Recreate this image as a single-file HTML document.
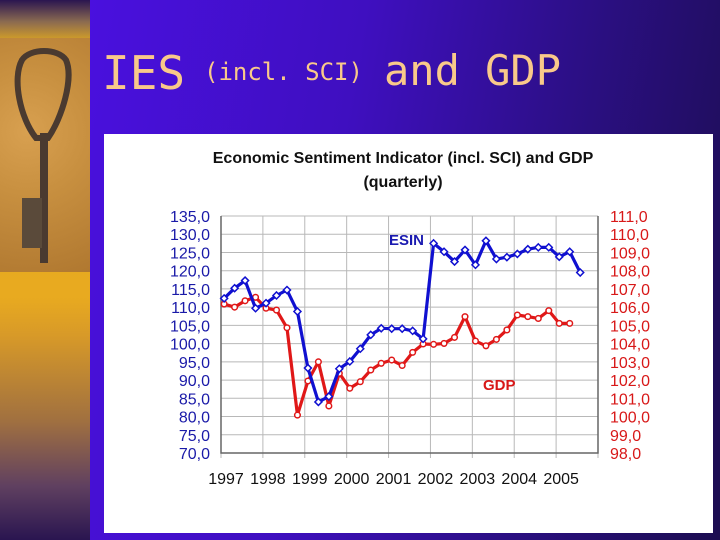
<!DOCTYPE html>
<html><head><meta charset="utf-8">
<style>
html,body{margin:0;padding:0;}
body{width:720px;height:540px;overflow:hidden;position:relative;font-family:"Liberation Sans",sans-serif;
background:linear-gradient(100deg,#4d10e8 0%,#3f0fc0 45%,#2a0f80 75%,#1c0d50 100%);}
#strip{position:absolute;left:0;top:0;width:90px;height:540px;
background:linear-gradient(180deg,#2a1550 0%,#8a6a50 4%,#e0a820 8%,#e8aa20 55%,#d89a28 62%,#a07040 78%,#604060 90%,#2a1550 100%);}
#photo{position:absolute;left:0;top:38px;width:90px;height:234px;
background:radial-gradient(circle at 30% 40%,#d8a050 0%,#c89040 40%,#b07830 100%);}
.tt{position:absolute;color:#f9c98a;font-family:"DejaVu Sans Mono","Liberation Mono",monospace;white-space:nowrap;line-height:1;}
#panel{position:absolute;left:104px;top:134px;width:609px;height:399px;background:#fff;}
</style></head><body>
<div id="strip"></div>
<div id="photo">
<svg width="90" height="234">
<path d="M36 100 C20 80 12 40 22 22 C30 10 58 10 66 22 C74 40 62 80 48 100 Z" fill="none" stroke="#4a3a30" stroke-width="6"/>
<rect x="40" y="95" width="8" height="130" fill="#4a3a30"/>
<rect x="22" y="160" width="20" height="50" fill="#5a4a3a"/>
</svg></div>
<div>
<span class="tt" style="left:102px;top:50px;font-size:46px;">IES</span>
<span class="tt" style="left:204px;top:60px;font-size:24px;">(incl. SCI)</span>
<span class="tt" style="left:384px;top:50px;font-size:42px;">and GDP</span>
</div>
<div id="panel"></div>
<svg id="chart" width="720" height="540" style="position:absolute;left:0;top:0"></svg>
<script>
const years=["1997","1998","1999","2000","2001","2002","2003","2004","2005"];
const leftTicks=[70,75,80,85,90,95,100,105,110,115,120,125,130,135];
const rightTicks=[98,99,100,101,102,103,104,105,106,107,108,109,110,111];
const esin=[112.4,115.2,117.3,109.7,111.1,113.2,114.7,108.8,93.3,84.0,85.5,93.1,95.1,98.6,102.4,104.2,104.1,104.1,103.5,101.3,127.5,125.2,122.5,125.7,121.6,128.2,123.2,123.7,124.6,125.9,126.4,126.4,123.8,125.2,119.5];
const gdp=[106.17,106.0,106.35,106.54,105.94,105.84,104.87,100.08,101.95,103.0,100.58,102.37,101.55,101.91,102.55,102.92,103.1,102.8,103.52,103.98,103.96,104.01,104.34,105.48,104.14,103.88,104.23,104.75,105.57,105.48,105.38,105.81,105.11,105.11];
const NS='http://www.w3.org/2000/svg';
const svg=document.getElementById('chart');
const X0=221,X1=598,Y0=216,Y1=453;
const step=(X1-X0)/36;
function xq(i){return X0+(i+0.3)*step;}
function yL(v){return Y1-(v-70)/65*(Y1-Y0);}
function yR(v){return Y1-(v-98)/13*(Y1-Y0);}
function mk(tag,attrs,parent){const e=document.createElementNS(NS,tag);for(const k in attrs)e.setAttribute(k,attrs[k]);(parent||svg).appendChild(e);return e;}
const F='"Liberation Sans",Arial,sans-serif';
let t=mk('text',{x:403,y:163,'text-anchor':'middle','font-size':16,'font-weight':'bold','font-family':F,fill:'#111'});


t.textContent='Economic Sentiment Indicator (incl. SCI) and GDP';
t=mk('text',{x:403,y:187,'text-anchor':'middle','font-size':16,'font-weight':'bold','font-family':F,fill:'#111'});


t.textContent='(quarterly)';
leftTicks.forEach(v=>{const y=yL(v);
 const g=mk('line',{x1:X0,x2:X1,y1:y,y2:y,stroke:'#b8b8b8','stroke-width':1});
 
 
 const l=mk('text',{x:210,y:y+6,'text-anchor':'end','font-size':16,'font-family':F,fill:'#1a1aa8'});
 
 
 l.textContent=v.toFixed(1).replace('.',',');});
rightTicks.forEach(v=>{const y=yR(v);
 const l=mk('text',{x:610,y:y+6,'font-size':16,'font-family':F,fill:'#d81818'});
 
 
 l.textContent=v.toFixed(1).replace('.',',');});
for(let k=0;k<=9;k++){const x=X0+k*step*4;
 const g=mk('line',{x1:x,x2:x,y1:Y0,y2:Y1+5,stroke:'#b8b8b8','stroke-width':1});
 
 }
years.forEach((yr,k)=>{const l=mk('text',{x:X0+k*step*4+5,y:484,'text-anchor':'middle','font-size':16,'font-family':F,fill:'#111'});
 
 
 l.textContent=yr;});
const ax=mk('path',{d:`M${X0} ${Y0}V${Y1}H${X1}V${Y0}`,fill:'none',stroke:'#666','stroke-width':1.5});


function series(vals,fy,color,name,marker){
 const p=mk('polyline',{points:vals.map((v,i)=>xq(i)+','+fy(v)).join(' '),fill:'none',stroke:color,'stroke-width':3.2,'stroke-linejoin':'round'});
 
 
 vals.forEach((v,i)=>{let m;
  if(marker==='d'){const x=xq(i),y=fy(v);m=mk('path',{d:`M${x} ${y-3.5}L${x+3.5} ${y}L${x} ${y+3.5}L${x-3.5} ${y}Z`,fill:'#fff',stroke:color,'stroke-width':1.5});}
  else m=mk('circle',{cx:xq(i),cy:fy(v),r:2.8,fill:'#fff',stroke:color,'stroke-width':1.5});
  
  });
}
series(gdp,yR,'#e01818','gdp','c');
series(esin,yL,'#1010d0','esin','d');
let lb=mk('text',{x:389,y:245,'font-size':15,'font-weight':'bold','font-family':F,fill:'#1a1ab0'});


lb.textContent='ESIN';
lb=mk('text',{x:483,y:390,'font-size':15,'font-weight':'bold','font-family':F,fill:'#d81818'});


lb.textContent='GDP';
</script>
</body></html>
